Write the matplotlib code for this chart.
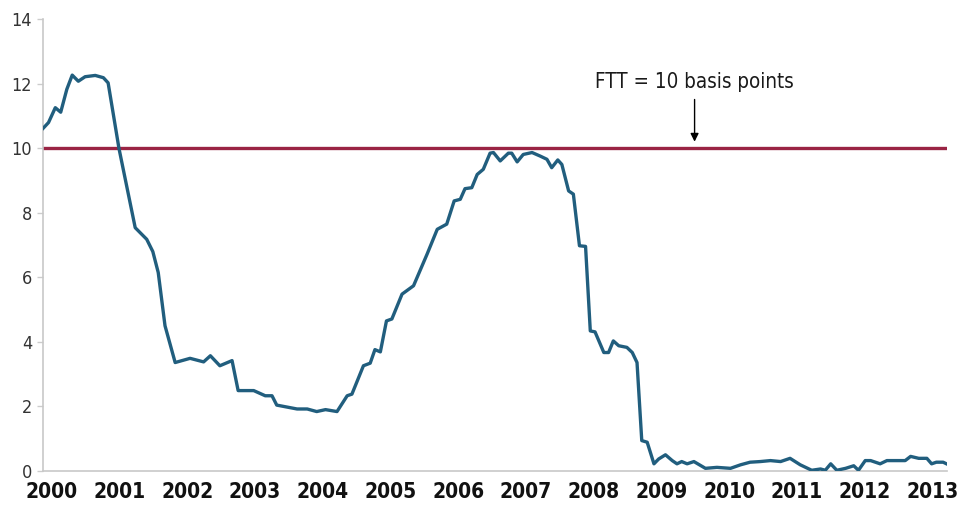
import matplotlib
matplotlib.use("Agg")
import matplotlib.pyplot as plt

# ── data (fractional year, percent) ──
years = [
    1999.87, 1999.95, 2000.05, 2000.13, 2000.22, 2000.30, 2000.39, 2000.49, 2000.64, 2000.76,
    2000.83, 2000.99, 2001.23, 2001.40, 2001.49, 2001.57, 2001.67, 2001.82, 2002.04, 2002.24,
    2002.34, 2002.48, 2002.66, 2002.75, 2002.98, 2003.15, 2003.25, 2003.32, 2003.42, 2003.62,
    2003.77, 2003.91, 2004.04, 2004.21, 2004.36, 2004.43, 2004.60, 2004.70, 2004.77, 2004.85,
    2004.94, 2005.02, 2005.17, 2005.34, 2005.54, 2005.69, 2005.83, 2005.94, 2006.03, 2006.10,
    2006.20, 2006.28, 2006.37, 2006.47, 2006.52, 2006.62, 2006.74, 2006.79, 2006.87, 2006.96,
    2007.09, 2007.21, 2007.31, 2007.38, 2007.47, 2007.53, 2007.63, 2007.70, 2007.79, 2007.88,
    2007.95, 2008.02, 2008.15, 2008.22, 2008.29, 2008.37, 2008.49, 2008.57, 2008.64, 2008.71,
    2008.79, 2008.89, 2008.96, 2009.06, 2009.16, 2009.23, 2009.30, 2009.38, 2009.48, 2009.65,
    2009.82, 2010.02, 2010.17, 2010.31, 2010.46, 2010.61, 2010.76, 2010.90, 2011.05, 2011.22,
    2011.35, 2011.42, 2011.50, 2011.59, 2011.72, 2011.84, 2011.91, 2012.01, 2012.09, 2012.23,
    2012.33, 2012.48, 2012.60, 2012.68, 2012.80, 2012.92, 2012.99, 2013.06, 2013.16, 2013.21,
]
values = [
    10.62, 10.80, 11.26, 11.12, 11.83, 12.27, 12.08, 12.22, 12.26, 12.19,
    12.03, 10.00, 7.54, 7.18, 6.80, 6.15, 4.50, 3.36, 3.49, 3.38,
    3.57, 3.26, 3.42, 2.49, 2.49, 2.33, 2.33, 2.04, 2.00, 1.92,
    1.92, 1.84, 1.90, 1.84, 2.33, 2.38, 3.26, 3.34, 3.76, 3.69,
    4.65, 4.71, 5.48, 5.74, 6.72, 7.49, 7.65, 8.37, 8.42, 8.75,
    8.78, 9.19, 9.35, 9.85, 9.87, 9.61, 9.85, 9.85, 9.58, 9.81,
    9.87, 9.76, 9.66, 9.40, 9.64, 9.50, 8.68, 8.58, 6.98, 6.96,
    4.34, 4.31, 3.67, 3.67, 4.03, 3.88, 3.83, 3.67, 3.36, 0.94,
    0.89, 0.22, 0.37, 0.50, 0.32, 0.22, 0.29, 0.22, 0.29, 0.08,
    0.11, 0.08, 0.19, 0.27, 0.29, 0.32, 0.29, 0.39, 0.19, 0.02,
    0.06, 0.02, 0.22, 0.02, 0.08, 0.16, 0.02, 0.32, 0.32, 0.22,
    0.32, 0.32, 0.32, 0.45, 0.39, 0.39, 0.22, 0.27, 0.27, 0.22,
]
year_ticks = list(range(2000, 2014))
y_ticks = [0, 2, 4, 6, 8, 10, 12, 14]
ftt_level = 10
ftt_label = "FTT = 10 basis points"
ftt_arrow_year = 2009.49

# the reference uses a condensed face; DejaVu Sans Condensed is the closest one here
plt.rcParams["font.family"] = ["DejaVu Sans"]
plt.rcParams["font.stretch"] = "condensed"

fig = plt.figure(figsize=(9.58, 5.08), dpi=100)
ax = fig.add_axes([0.045, 0.073, 0.943, 0.889])

ax.axhline(ftt_level, color="#9a2444", lw=2.4, zorder=2)
ax.plot(years, values, color="#215e7e", lw=2.4, solid_joinstyle="round", zorder=3)

ax.annotate("", xy=(ftt_arrow_year, 10.12), xytext=(ftt_arrow_year, 11.6),
            arrowprops=dict(arrowstyle="-|>", color="black", lw=1.0, mutation_scale=12))
ax.text(ftt_arrow_year, 12.05, ftt_label, ha="center", va="center",
        fontsize=14.8, color="#1a1a1a")

ax.set_xlim(1999.87, 2013.21)
ax.set_ylim(0, 14)
ax.set_xticks(year_ticks)
ax.set_xticklabels([str(y) for y in year_ticks], fontsize=15, fontweight="bold", color="#111111")
ax.set_yticks(y_ticks)
ax.set_yticklabels([str(v) for v in y_ticks], fontsize=13, color="#333333")

ax.tick_params(axis="x", length=0, pad=8)
ax.tick_params(axis="y", length=4, width=1, color="#cccccc", pad=4)
for side in ("top", "right"):
    ax.spines[side].set_visible(False)
for side in ("left", "bottom"):
    ax.spines[side].set_color("#c8c8c8")
    ax.spines[side].set_linewidth(1.2)

fig.savefig("out.png", dpi=100)
